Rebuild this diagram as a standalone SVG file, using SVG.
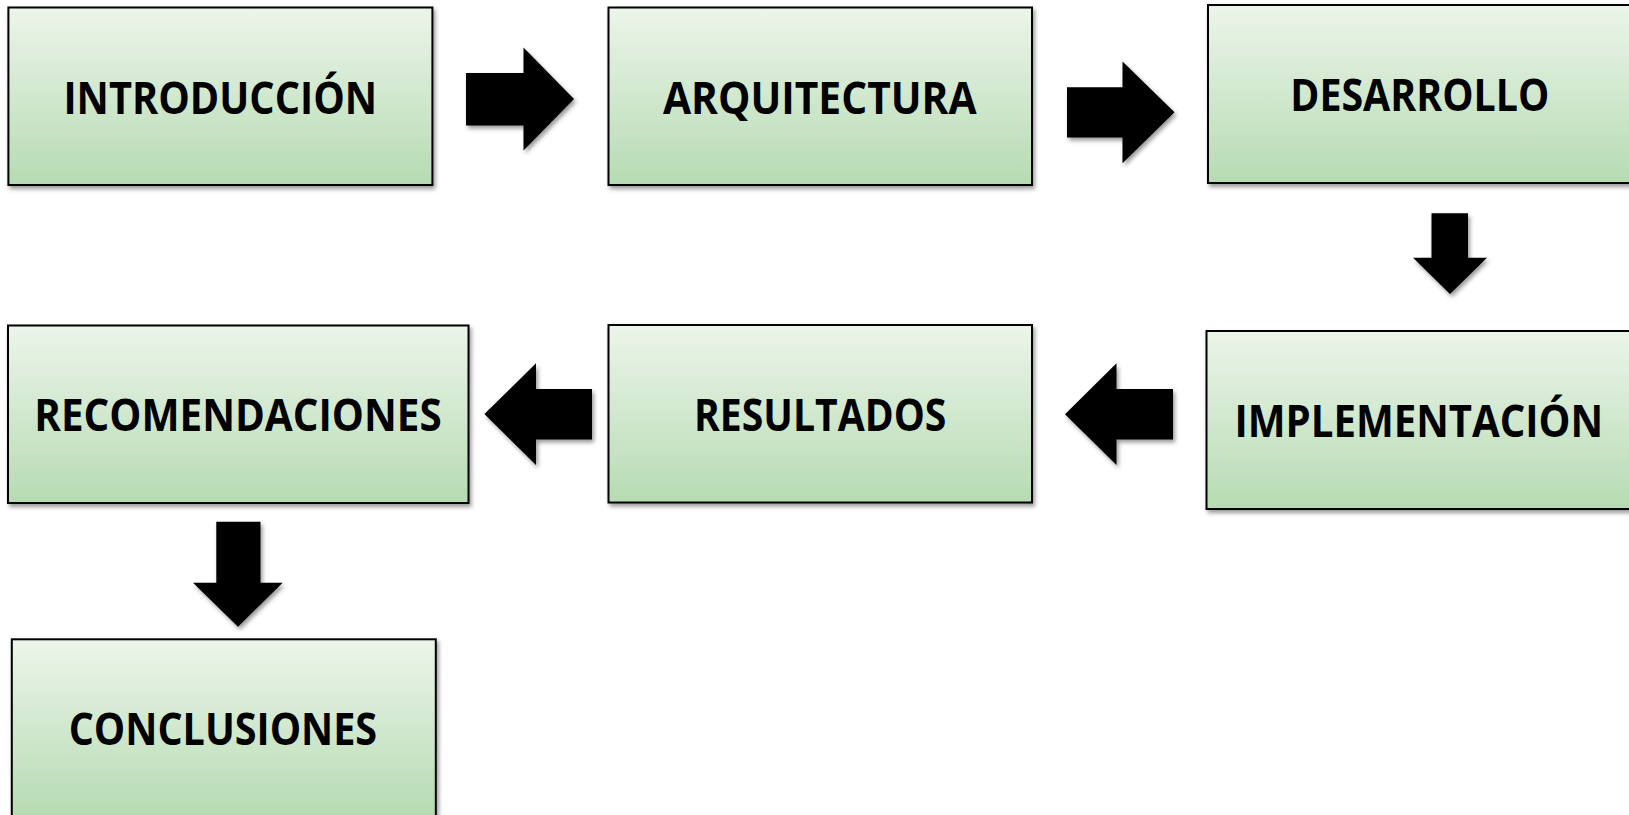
<svg xmlns="http://www.w3.org/2000/svg" width="1629" height="815" viewBox="0 0 1629 815">
<defs>
<linearGradient id="g" x1="0" y1="0" x2="0" y2="1">
<stop offset="0" stop-color="#ECF5EA"/>
<stop offset="1" stop-color="#B6DBB2"/>
</linearGradient>
<filter id="sh" x="-5%" y="-5%" width="115%" height="120%">
<feDropShadow dx="2" dy="3" stdDeviation="2" flood-color="#000" flood-opacity="0.4"/>
</filter>
</defs>
<style>
.box{fill:url(#g);stroke:#000;stroke-width:2;filter:url(#sh)}
.lbl{font-family:"Open Sans","Liberation Sans",sans-serif;font-weight:bold;font-size:44px;fill:#000;text-anchor:middle}
.arr{fill:#000;filter:url(#sh)}
</style>
<rect width="1629" height="815" fill="#fff"/>
<g id="connectors">
<polygon class="arr" points="466,73 523.5,73 523.5,47.5 574,99 523.5,150.5 523.5,125.5 466,125.5"/>
<polygon class="arr" points="1067,87.3 1122.5,87.3 1122.5,61.5 1174.5,112.3 1122.5,163.3 1122.5,137.5 1067,137.5"/>
<polygon class="arr" points="1431.5,213.3 1468,213.3 1468,257.7 1487,257.7 1450,294 1413,257.7 1431.5,257.7"/>
<polygon class="arr" points="1173,389 1116.5,389 1116.5,363.3 1065,414.2 1116.5,465 1116.5,439.4 1173,439.4"/>
<polygon class="arr" points="592,389 536,389 536,363.3 484.4,414 536,465 536,439.4 592,439.4"/>
<polygon class="arr" points="216.3,521.7 260.5,521.7 260.5,582.7 282.7,582.7 238,626.7 193,582.7 216.3,582.7"/>
</g>
<g id="n-introduccion">
<rect class="box" x="8.4" y="7.5" width="424" height="177.5"/>
<text class="lbl" x="220.3" y="113.5" textLength="313.7" lengthAdjust="spacingAndGlyphs">INTRODUCCIÓN</text>
</g>
<g id="n-arquitectura">
<rect class="box" x="608.5" y="7.5" width="423.5" height="177.5"/>
<text class="lbl" x="819.8" y="113.5" textLength="313.8" lengthAdjust="spacingAndGlyphs">ARQUITECTURA</text>
</g>
<g id="n-desarrollo">
<rect class="box" x="1208" y="5" width="430" height="178"/>
<text class="lbl" x="1419.8" y="111" textLength="259" lengthAdjust="spacingAndGlyphs">DESARROLLO</text>
</g>
<g id="n-implementacion">
<rect class="box" x="1206.5" y="331" width="430" height="178"/>
<text class="lbl" x="1418.8" y="437" textLength="368.6" lengthAdjust="spacingAndGlyphs">IMPLEMENTACIÓN</text>
</g>
<g id="n-resultados">
<rect class="box" x="608.5" y="325" width="423.5" height="177.5"/>
<text class="lbl" x="820.2" y="431" textLength="252.5" lengthAdjust="spacingAndGlyphs">RESULTADOS</text>
</g>
<g id="n-recomendaciones">
<rect class="box" x="8" y="325.5" width="460.5" height="177.5"/>
<text class="lbl" x="238" y="431.2" textLength="407.3" lengthAdjust="spacingAndGlyphs">RECOMENDACIONES</text>
</g>
<g id="n-conclusiones">
<rect class="box" x="11.8" y="639.3" width="424" height="178"/>
<text class="lbl" x="222.9" y="745" textLength="308.5" lengthAdjust="spacingAndGlyphs">CONCLUSIONES</text>
</g>
</svg>
